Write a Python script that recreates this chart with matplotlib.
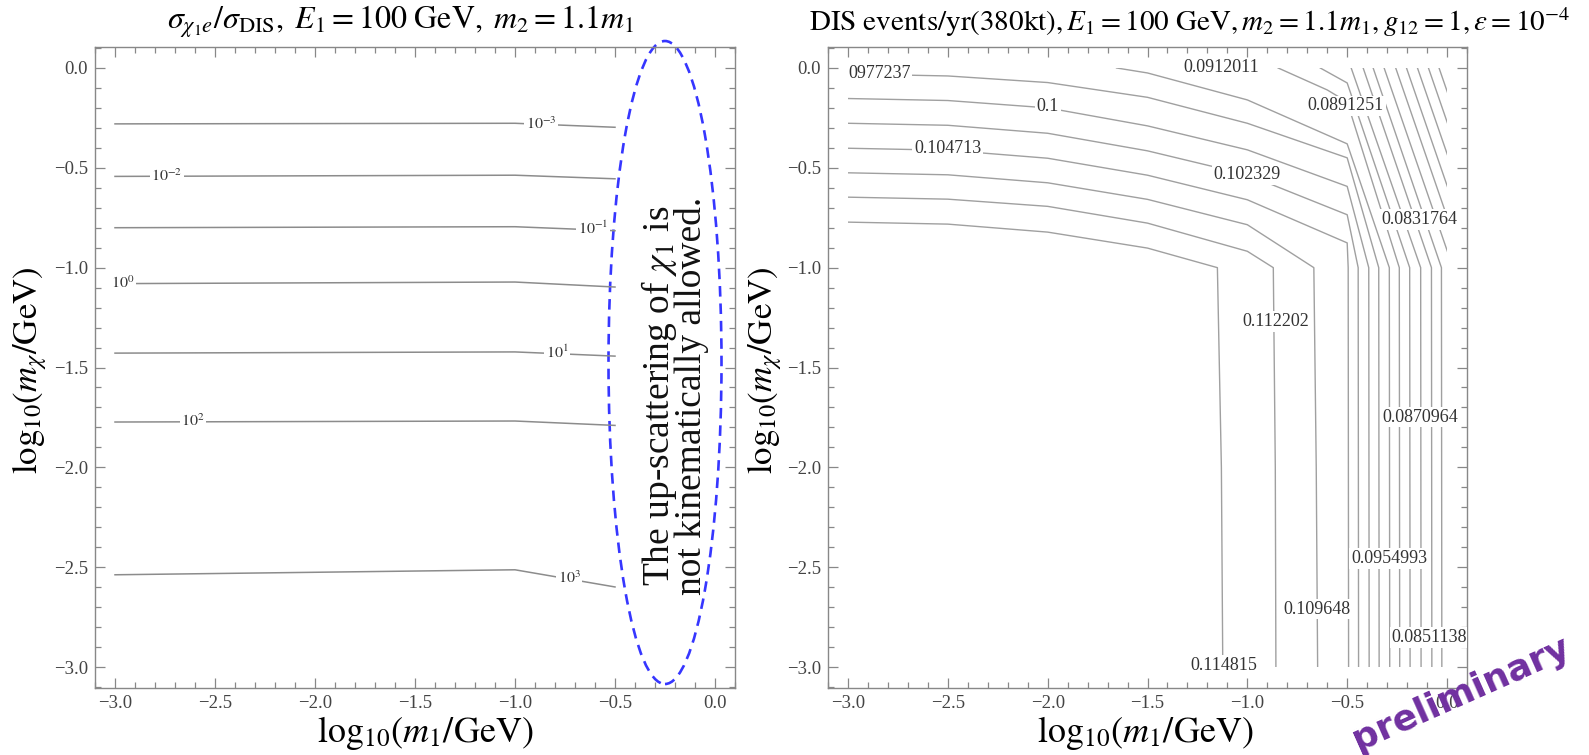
import numpy as np
import matplotlib.pyplot as plt
from matplotlib.patches import Ellipse, Rectangle
from matplotlib.ticker import MultipleLocator, FuncFormatter

plt.rcParams['font.family'] = ['Liberation Serif', 'DejaVu Serif']
plt.rcParams['mathtext.fontset'] = 'stix'

# ---- left panel: sigma ratio contours (log10 m1 grid nodes) ----
left_x = [-3.0, -1.0, -0.5]
left_lines = [
    [-0.280, -0.277, -0.297],   # 1e-3
    [-0.543, -0.537, -0.555],   # 1e-2
    [-0.800, -0.795, -0.815],   # 1e-1
    [-1.080, -1.072, -1.097],   # 1e0
    [-1.428, -1.422, -1.443],   # 1e1
    [-1.773, -1.768, -1.790],   # 1e2
    [-2.538, -2.513, -2.599],   # 1e3
]
left_labels = ['$10^{-3}$', '$10^{-2}$', '$10^{-1}$', '$10^{0}$', '$10^{1}$', '$10^{2}$', '$10^{3}$']
left_label_x = [-0.87, -2.74, -0.61, -2.96, -0.79, -2.61, -0.73]

# ---- right panel: DIS events/yr contours, vertices ----
# lines entering from the left edge
right_left_edge = [
    ([-3, -2.5, -2, -1.5, -1.0, -0.5, -0.342, -0.34], [-0.030, -0.040, -0.073, -0.147, -0.277, -0.45, -1.0, -3.0]),
    ([-3, -2.5, -2, -1.5, -1.0, -0.5, -0.392, -0.39], [-0.153, -0.163, -0.200, -0.290, -0.410, -0.593, -1.0, -3.0]),
    ([-3, -2.5, -2, -1.5, -1.0, -0.5, -0.445, -0.443], [-0.277, -0.287, -0.327, -0.415, -0.535, -0.735, -1.0, -3.0]),
    ([-3, -2.5, -2, -1.5, -1.0, -0.5, -0.495, -0.493], [-0.402, -0.412, -0.452, -0.537, -0.660, -0.876, -1.0, -3.0]),
    ([-3, -2.5, -2, -1.5, -1.0, -0.667, -0.655, -0.648], [-0.525, -0.535, -0.575, -0.658, -0.785, -1.0, -2.0, -3.0]),
    ([-3, -2.5, -2, -1.5, -1.0, -0.87, -0.86, -0.857], [-0.647, -0.657, -0.693, -0.777, -0.918, -1.0, -2.0, -3.0]),
    ([-3, -2.5, -2, -1.5, -1.15, -1.13, -1.123], [-0.772, -0.782, -0.822, -0.902, -1.0, -2.0, -3.0]),
]
# lines entering from the top edge
right_top_edge = [
    ([-1.655, -1.5, -1.0, -0.5, -0.289, -0.287], [0.0, -0.025, -0.16, -0.38, -1.0, -3.0]),
    ([-0.846, -0.6, -0.5, -0.239, -0.237], [0.0, -0.11, -0.17, -1.0, -3.0]),
    ([-0.635, -0.5, -0.187, -0.185], [0.0, -0.075, -1.0, -3.0]),
    ([-0.48, -0.132, -0.13], [0.0, -1.0, -3.0]),
    ([-0.42, -0.078, -0.076], [0.0, -1.0, -3.0]),
    ([-0.37, -0.028, -0.026], [0.0, -1.0, -3.0]),
    ([-0.315, 0.03], [0.0, -1.0]),
    ([-0.257, 0.088], [0.0, -1.0]),
    ([-0.203, 0.142], [0.0, -1.0]),
    ([-0.148, 0.197], [0.0, -1.0]),
    ([-0.093, 0.252], [0.0, -1.0]),
    ([-0.04, 0.305], [0.0, -1.0]),
]
right_labels = ['0.1', '0.104713', '0.102329', '0.0912011', '0.0891251', '0.0831764',
                '0.112202', '0.0870964', '0.0954993', '0.109648', '0.0851138', '0.114815']
right_label_xy = [(-2.0, -0.193), (-2.5, -0.405), (-1.0, -0.535), (-1.13, 0.0),
                  (-0.507, -0.19), (-0.136, -0.76), (-0.86, -1.27), (-0.136, -1.748), (-0.29, -2.457),
                  (-0.653, -2.71), (-0.09, -2.852), (-1.12, -2.99)]
# first label is cut by the frame in the original, only its tail shows
cut_label, cut_label_xy = '0977237', (-3.0, -0.03)

fig = plt.figure(figsize=(15.89, 7.55), dpi=100)
axL = fig.add_axes([95 / 1589, 1 - 688 / 755, 640 / 1589, 641 / 755])
axR = fig.add_axes([828 / 1589, 1 - 688 / 755, 639 / 1589, 641 / 755])

fmt = FuncFormatter(lambda v, p: ('%.1f' % (0.0 if abs(v) < 1e-9 else v)).replace('-', '\u2212'))

for ax in (axL, axR):
    ax.set_xlim(-3.1, 0.1)
    ax.set_ylim(-3.105, 0.105)
    for axis in (ax.xaxis, ax.yaxis):
        axis.set_major_locator(MultipleLocator(0.5))
        axis.set_minor_locator(MultipleLocator(0.1))
        axis.set_major_formatter(fmt)
    ax.tick_params(which='both', direction='in', top=True, right=True, color='#888888',
                   labelcolor='#444444', labelsize=13.5, width=0.9, pad=5)
    ax.tick_params(which='major', length=7)
    ax.tick_params(which='minor', length=4)
    for s in ax.spines.values():
        s.set_color('#888888')
        s.set_linewidth(1.0)

# left panel
for ys in left_lines:
    axL.plot(left_x, ys, color='#8c8c8c', lw=1.1)
for ys, lab, lx in zip(left_lines, left_labels, left_label_x):
    ly = np.interp(lx, left_x, ys)
    axL.text(lx, ly, lab, fontsize=11.5, color='#333333', ha='center', va='center',
             bbox=dict(boxstyle='square,pad=0.1', fc='white', ec='none'))

axL.add_patch(Ellipse((-0.25, -1.475), 0.565, 3.22, fill=False, ec='#3636ff',
                      lw=1.9, ls=(0, (4, 2.6)), clip_on=False))
axL.text(-0.205, -1.64, 'The up-scattering of $\\chi_1$ is\nnot kinematically allowed.',
         rotation=90, ha='center', va='center', fontsize=27, linespacing=0.8, color='#111111')

# right panel
clip = Rectangle((-3, -3), 3, 3, transform=axR.transData, fc='none', ec='none')
for xs, ys in right_left_edge + right_top_edge:
    ln, = axR.plot(xs, ys, color='#a0a0a0', lw=1.0)
    ln.set_clip_path(clip)
for lab, (lx, ly) in zip(right_labels, right_label_xy):
    axR.text(lx, ly, lab, fontsize=13, color='#333333', ha='center', va='center', clip_on=True,
             bbox=dict(boxstyle='square,pad=0.1', fc='white', ec='none'))
axR.text(cut_label_xy[0], cut_label_xy[1], cut_label, fontsize=13, color='#333333', ha='left',
         va='center', clip_on=True, bbox=dict(boxstyle='square,pad=0.1', fc='white', ec='none'))

# titles and axis labels
fig.text(400 / 1589, 1 - 22 / 755,
         r'$\sigma_{\chi_1 e}/\sigma_{\mathrm{DIS}},\;E_1 = 100\ \mathrm{GeV},\;m_2 = 1.1m_1$',
         fontsize=23, ha='center', va='center')
fig.text(1190 / 1589, 1 - 22 / 755,
         r'$\mathrm{DIS\ events/yr(380kt)}, E_1 = 100\ \mathrm{GeV}, m_2 = 1.1m_1, g_{12} = 1, \epsilon = 10^{-4}$',
         fontsize=21, ha='center', va='center')
for cx in (425 / 1589, 1145 / 1589):
    fig.text(cx, 1 - 733 / 755, r'$\mathrm{log}_{10}(m_1/\mathrm{GeV})$', fontsize=26, ha='center', va='center')
for cx in (30 / 1589, 765 / 1589):
    fig.text(cx, 1 - 370 / 755, r'$\mathrm{log}_{10}(m_\chi/\mathrm{GeV})$', fontsize=25, ha='center',
             va='center', rotation=90)

fig.text(1461 / 1589, 1 - 694 / 755, 'preliminary', rotation=24, color='#7030a0', fontsize=26,
         fontweight='bold', family='DejaVu Sans', ha='center', va='center')

fig.savefig('out.png', dpi=100, facecolor='white')
